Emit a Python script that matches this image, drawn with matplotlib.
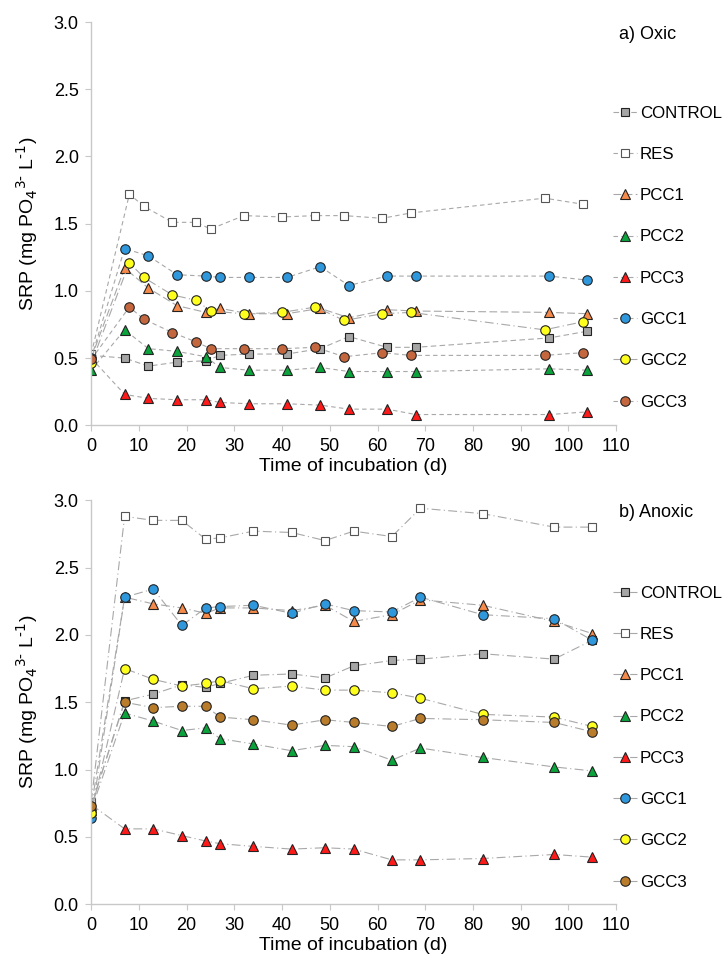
import numpy as np
import matplotlib
matplotlib.use('Agg')
import matplotlib.pyplot as plt

plt.rcParams['font.family'] = ['Liberation Sans', 'DejaVu Sans']

# ---- data: a) oxic ----
days_a1 = [0, 7, 12, 18, 24, 27, 33, 41, 48, 54, 62, 68, 96, 104]
days_a2 = [0, 8, 11, 17, 22, 25, 32, 40, 47, 53, 61, 67, 95, 103]

oxic = {
    'CONTROL': [0.52, 0.50, 0.44, 0.47, 0.48, 0.52, 0.53, 0.53, 0.57, 0.66, 0.58, 0.58, 0.65, 0.70],
    'RES':     [0.53, 1.72, 1.63, 1.51, 1.51, 1.46, 1.56, 1.55, 1.56, 1.56, 1.54, 1.58, 1.69, 1.645],
    'PCC1':    [0.50, 1.17, 1.02, 0.89, 0.84, 0.87, 0.83, 0.83, 0.87, 0.80, 0.86, 0.85, 0.84, 0.83],
    'PCC2':    [0.41, 0.71, 0.57, 0.55, 0.51, 0.43, 0.41, 0.41, 0.43, 0.40, 0.40, 0.40, 0.42, 0.41],
    'PCC3':    [0.50, 0.23, 0.20, 0.19, 0.19, 0.17, 0.16, 0.16, 0.15, 0.12, 0.12, 0.08, 0.08, 0.10],
    'GCC1':    [0.50, 1.315, 1.26, 1.12, 1.11, 1.10, 1.10, 1.10, 1.18, 1.04, 1.11, 1.11, 1.11, 1.08],
    'GCC2':    [0.46, 1.21, 1.10, 0.97, 0.93, 0.85, 0.83, 0.84, 0.88, 0.78, 0.83, 0.84, 0.71, 0.77],
    'GCC3':    [0.49, 0.88, 0.79, 0.69, 0.62, 0.57, 0.57, 0.57, 0.58, 0.51, 0.54, 0.52, 0.52, 0.54],
}
oxic_days = {'CONTROL': days_a1, 'RES': days_a2, 'PCC1': days_a1, 'PCC2': days_a1,
             'PCC3': days_a1, 'GCC1': days_a1, 'GCC2': days_a2, 'GCC3': days_a2}

# ---- data: b) anoxic ----
days_b = [0, 7, 13, 19, 24, 27, 34, 42, 49, 55, 63, 69, 82, 97, 105]

anoxic = {
    'CONTROL': [0.73, 1.51, 1.56, 1.63, 1.61, 1.64, 1.70, 1.71, 1.68, 1.77, 1.81, 1.82, 1.86, 1.82, 1.96],
    'RES':     [0.76, 2.88, 2.85, 2.85, 2.71, 2.72, 2.77, 2.76, 2.70, 2.77, 2.73, 2.94, 2.90, 2.80, 2.80],
    'PCC1':    [0.72, 2.28, 2.23, 2.20, 2.16, 2.20, 2.20, 2.18, 2.22, 2.10, 2.15, 2.26, 2.22, 2.10, 2.01],
    'PCC2':    [0.70, 1.42, 1.36, 1.29, 1.31, 1.23, 1.19, 1.14, 1.18, 1.17, 1.07, 1.16, 1.09, 1.02, 0.99],
    'PCC3':    [0.74, 0.56, 0.56, 0.51, 0.47, 0.45, 0.43, 0.41, 0.42, 0.41, 0.33, 0.33, 0.34, 0.37, 0.35],
    'GCC1':    [0.64, 2.28, 2.34, 2.07, 2.20, 2.21, 2.22, 2.16, 2.23, 2.18, 2.17, 2.28, 2.15, 2.12, 1.96],
    'GCC2':    [0.68, 1.75, 1.67, 1.62, 1.64, 1.66, 1.60, 1.62, 1.59, 1.59, 1.57, 1.53, 1.41, 1.39, 1.32],
    'GCC3':    [0.73, 1.50, 1.46, 1.47, 1.47, 1.39, 1.37, 1.33, 1.37, 1.35, 1.32, 1.38, 1.37, 1.35, 1.28],
}

series = ['CONTROL', 'RES', 'PCC1', 'PCC2', 'PCC3', 'GCC1', 'GCC2', 'GCC3']
markers = {'CONTROL': 's', 'RES': 's', 'PCC1': '^', 'PCC2': '^', 'PCC3': '^',
           'GCC1': 'o', 'GCC2': 'o', 'GCC3': 'o'}
colors = {'CONTROL': '#a5a5a5', 'RES': 'white', 'PCC1': '#f58a4a', 'PCC2': '#0aa33c',
          'PCC3': '#ff1a1a', 'GCC1': '#2f97db', 'GCC2': '#ffff1e', 'GCC3': '#c4673f'}
colors_b = dict(colors, GCC3='#b87c2a')
msize = {'s': 8.5, '^': 9.5, 'o': 9.5}

line_col = '#a8a8a8'
dashes_a = {'CONTROL': (5, 3), 'RES': (4, 3), 'PCC1': (7, 3), 'PCC2': (4, 3), 'PCC3': (4, 3),
            'GCC1': (4, 3), 'GCC2': (8, 3, 1, 3), 'GCC3': (4, 3)}
dashes_b = (8, 3, 1, 3)

fig = plt.figure(figsize=(7.24, 9.6), dpi=100)
ax1 = fig.add_axes([0.126, 0.557, 0.725, 0.42])
ax2 = fig.add_axes([0.126, 0.058, 0.725, 0.421])


def draw(ax, data, days_of, cols, dash_of, title, leg_y):
    for name in series:
        m = markers[name]
        ec = '#555555' if name == 'RES' else '#222222'
        ax.plot(days_of(name), data[name], color=line_col, lw=0.8, dashes=dash_of(name),
                marker=m, markersize=msize[m], markerfacecolor=cols[name],
                markeredgecolor=ec, markeredgewidth=0.8, label=name)
    ax.set_xlim(0, 110)
    ax.set_ylim(0, 3.0)
    ax.set_xticks(np.arange(0, 111, 10))
    ax.set_yticks(np.arange(0, 3.01, 0.5))
    ax.yaxis.set_major_formatter(matplotlib.ticker.FormatStrFormatter('%.1f'))
    for s in ['top', 'right']:
        ax.spines[s].set_visible(False)
    for s in ['left', 'bottom']:
        ax.spines[s].set_color('#c8c8c8')
        ax.spines[s].set_linewidth(1.0)
    ax.tick_params(direction='out', length=4, color='#c8c8c8', labelsize=13, pad=5)
    ax.set_xlabel('Time of incubation (d)', fontsize=14, labelpad=2)
    ax.set_ylabel('SRP (mg PO$_4$$^{3\\text{-}}$ L$^{\\text{-}1}$)', fontsize=14, labelpad=10)
    ax.text(1.005, 0.99, title, transform=ax.transAxes, fontsize=13, va='top', ha='left')
    handles, labels = ax.get_legend_handles_labels()
    for h in handles:
        h.set_markersize(h.get_markersize() * 0.72)
    ax.legend(handles, labels, loc='upper left', bbox_to_anchor=(0.838, leg_y),
              bbox_transform=fig.transFigure, frameon=False, fontsize=12.2,
              labelspacing=1.55, handlelength=1.4, handletextpad=0.15, borderaxespad=0)


draw(ax1, oxic, lambda n: oxic_days[n], colors, lambda n: dashes_a[n], 'a) Oxic', 0.897)
draw(ax2, anoxic, lambda n: days_b, colors_b, lambda n: dashes_b, 'b) Anoxic', 0.397)

fig.savefig('out.png', dpi=100)
